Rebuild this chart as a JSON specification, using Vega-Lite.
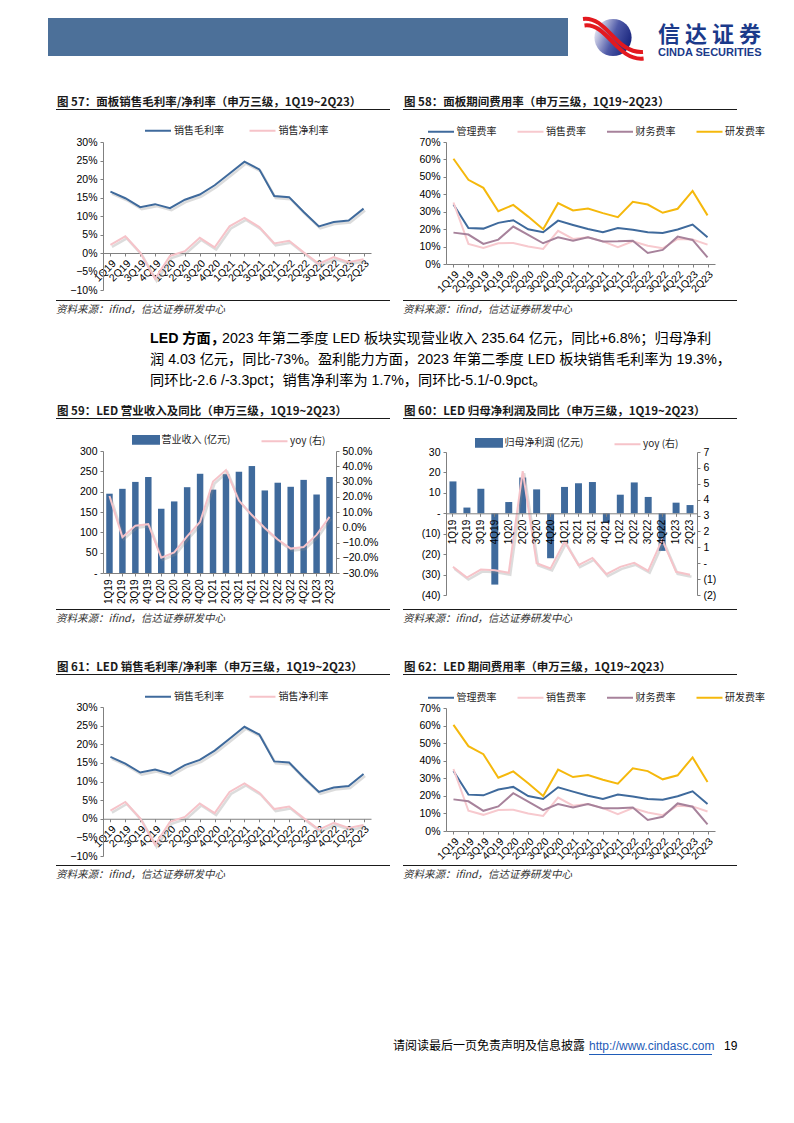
{
"$schema": "https://vega.github.io/schema/vega-lite/v6.json",
"padding": {"left": 48, "top": 0, "right": 0, "bottom": 0},
"background": "white",
"config": {
  "view": {"stroke": null},
  "font": "Liberation Sans, Noto Sans CJK SC",
  "axis": {"labelFont": "Liberation Sans", "labelFontSize": 10.5, "labelColor": "#000000", "domainColor": "#808080", "tickColor": "#808080", "tickSize": 3, "labelPadding": 3, "grid": false, "labelOverlap": false},
  "legend": {"labelFont": "Noto Sans CJK SC", "labelFontSize": 10, "labelColor": "#262626"},
  "title": {"anchor": "start", "frame": "group", "font": "Noto Sans CJK SC", "color": "#000000", "fontWeight": "normal", "offset": 0}
},
"datasets": {
  "blank": [{}],
  "margin": [
    {"q":"1Q19","s":"销售毛利率","v":0.166},{"q":"2Q19","s":"销售毛利率","v":0.148},{"q":"3Q19","s":"销售毛利率","v":0.124},{"q":"4Q19","s":"销售毛利率","v":0.132},{"q":"1Q20","s":"销售毛利率","v":0.121},{"q":"2Q20","s":"销售毛利率","v":0.144},{"q":"3Q20","s":"销售毛利率","v":0.158},{"q":"4Q20","s":"销售毛利率","v":0.183},{"q":"1Q21","s":"销售毛利率","v":0.215},{"q":"2Q21","s":"销售毛利率","v":0.247},{"q":"3Q21","s":"销售毛利率","v":0.226},{"q":"4Q21","s":"销售毛利率","v":0.154},{"q":"1Q22","s":"销售毛利率","v":0.151},{"q":"2Q22","s":"销售毛利率","v":0.110},{"q":"3Q22","s":"销售毛利率","v":0.072},{"q":"4Q22","s":"销售毛利率","v":0.084},{"q":"1Q23","s":"销售毛利率","v":0.088},{"q":"2Q23","s":"销售毛利率","v":0.120},
    {"q":"1Q19","s":"销售净利率","v":0.022},{"q":"2Q19","s":"销售净利率","v":0.045},{"q":"3Q19","s":"销售净利率","v":0.001},{"q":"4Q19","s":"销售净利率","v":-0.070},{"q":"1Q20","s":"销售净利率","v":-0.008},{"q":"2Q20","s":"销售净利率","v":0.005},{"q":"3Q20","s":"销售净利率","v":0.041},{"q":"4Q20","s":"销售净利率","v":0.015},{"q":"1Q21","s":"销售净利率","v":0.072},{"q":"2Q21","s":"销售净利率","v":0.095},{"q":"3Q21","s":"销售净利率","v":0.070},{"q":"4Q21","s":"销售净利率","v":0.026},{"q":"1Q22","s":"销售净利率","v":0.033},{"q":"2Q22","s":"销售净利率","v":0.001},{"q":"3Q22","s":"销售净利率","v":-0.029},{"q":"4Q22","s":"销售净利率","v":-0.011},{"q":"1Q23","s":"销售净利率","v":-0.025},{"q":"2Q23","s":"销售净利率","v":-0.017}
  ],
  "exp": [
    {"q":"1Q19","s":"管理费率","v":0.341},{"q":"2Q19","s":"管理费率","v":0.207},{"q":"3Q19","s":"管理费率","v":0.203},{"q":"4Q19","s":"管理费率","v":0.236},{"q":"1Q20","s":"管理费率","v":0.251},{"q":"2Q20","s":"管理费率","v":0.199},{"q":"3Q20","s":"管理费率","v":0.182},{"q":"4Q20","s":"管理费率","v":0.249},{"q":"1Q21","s":"管理费率","v":0.224},{"q":"2Q21","s":"管理费率","v":0.201},{"q":"3Q21","s":"管理费率","v":0.182},{"q":"4Q21","s":"管理费率","v":0.207},{"q":"1Q22","s":"管理费率","v":0.196},{"q":"2Q22","s":"管理费率","v":0.182},{"q":"3Q22","s":"管理费率","v":0.178},{"q":"4Q22","s":"管理费率","v":0.198},{"q":"1Q23","s":"管理费率","v":0.226},{"q":"2Q23","s":"管理费率","v":0.153},
    {"q":"1Q19","s":"销售费率","v":0.353},{"q":"2Q19","s":"销售费率","v":0.115},{"q":"3Q19","s":"销售费率","v":0.092},{"q":"4Q19","s":"销售费率","v":0.119},{"q":"1Q20","s":"销售费率","v":0.121},{"q":"2Q20","s":"销售费率","v":0.100},{"q":"3Q20","s":"销售费率","v":0.086},{"q":"4Q20","s":"销售费率","v":0.190},{"q":"1Q21","s":"销售费率","v":0.144},{"q":"2Q21","s":"销售费率","v":0.153},{"q":"3Q21","s":"销售费率","v":0.130},{"q":"4Q21","s":"销售费率","v":0.096},{"q":"1Q22","s":"销售费率","v":0.130},{"q":"2Q22","s":"销售费率","v":0.105},{"q":"3Q22","s":"销售费率","v":0.090},{"q":"4Q22","s":"销售费率","v":0.144},{"q":"1Q23","s":"销售费率","v":0.140},{"q":"2Q23","s":"销售费率","v":0.111},
    {"q":"1Q19","s":"财务费率","v":0.180},{"q":"2Q19","s":"财务费率","v":0.169},{"q":"3Q19","s":"财务费率","v":0.115},{"q":"4Q19","s":"财务费率","v":0.140},{"q":"1Q20","s":"财务费率","v":0.215},{"q":"2Q20","s":"财务费率","v":0.167},{"q":"3Q20","s":"财务费率","v":0.119},{"q":"4Q20","s":"财务费率","v":0.153},{"q":"1Q21","s":"财务费率","v":0.134},{"q":"2Q21","s":"财务费率","v":0.153},{"q":"3Q21","s":"财务费率","v":0.129},{"q":"4Q21","s":"财务费率","v":0.130},{"q":"1Q22","s":"财务费率","v":0.134},{"q":"2Q22","s":"财务费率","v":0.063},{"q":"3Q22","s":"财务费率","v":0.081},{"q":"4Q22","s":"财务费率","v":0.157},{"q":"1Q23","s":"财务费率","v":0.138},{"q":"2Q23","s":"财务费率","v":0.038},
    {"q":"1Q19","s":"研发费率","v":0.604},{"q":"2Q19","s":"研发费率","v":0.483},{"q":"3Q19","s":"研发费率","v":0.437},{"q":"4Q19","s":"研发费率","v":0.303},{"q":"1Q20","s":"研发费率","v":0.339},{"q":"2Q20","s":"研发费率","v":0.272},{"q":"3Q20","s":"研发费率","v":0.199},{"q":"4Q20","s":"研发费率","v":0.349},{"q":"1Q21","s":"研发费率","v":0.307},{"q":"2Q21","s":"研发费率","v":0.318},{"q":"3Q21","s":"研发费率","v":0.292},{"q":"4Q21","s":"研发费率","v":0.269},{"q":"1Q22","s":"研发费率","v":0.357},{"q":"2Q22","s":"研发费率","v":0.341},{"q":"3Q22","s":"研发费率","v":0.294},{"q":"4Q22","s":"研发费率","v":0.317},{"q":"1Q23","s":"研发费率","v":0.419},{"q":"2Q23","s":"研发费率","v":0.279}
  ],
  "rev": [
    {"q":"1Q19","rev":195,"yoy":0.205},{"q":"2Q19","rev":207,"yoy":-0.065},{"q":"3Q19","rev":224,"yoy":0.01},{"q":"4Q19","rev":236,"yoy":0.02},{"q":"1Q20","rev":158,"yoy":-0.2},{"q":"2Q20","rev":176,"yoy":-0.165},{"q":"3Q20","rev":211,"yoy":-0.06},{"q":"4Q20","rev":244,"yoy":0.035},{"q":"1Q21","rev":205,"yoy":0.3},{"q":"2Q21","rev":243,"yoy":0.375},{"q":"3Q21","rev":249,"yoy":0.175},{"q":"4Q21","rev":263,"yoy":0.08},{"q":"1Q22","rev":203,"yoy":-0.005},{"q":"2Q22","rev":222,"yoy":-0.08},{"q":"3Q22","rev":212,"yoy":-0.14},{"q":"4Q22","rev":229,"yoy":-0.13},{"q":"1Q23","rev":193,"yoy":-0.05},{"q":"2Q23","rev":236,"yoy":0.068}
  ],
  "np": [
    {"q":"1Q19","np":15.6,"yoy":-0.23},{"q":"2Q19","np":2.8,"yoy":-0.9},{"q":"3Q19","np":12.0,"yoy":-0.4},{"q":"4Q19","np":-34.9,"yoy":-0.44},{"q":"1Q20","np":5.5,"yoy":-0.6},{"q":"2Q20","np":17.5,"yoy":5.8},{"q":"3Q20","np":11.7,"yoy":0.0},{"q":"4Q20","np":-22.0,"yoy":-0.33},{"q":"1Q21","np":12.9,"yoy":1.37},{"q":"2Q21","np":14.7,"yoy":-0.12},{"q":"3Q21","np":15.3,"yoy":0.33},{"q":"4Q21","np":-4.5,"yoy":-0.69},{"q":"1Q22","np":9.1,"yoy":-0.23},{"q":"2Q22","np":15.1,"yoy":0.02},{"q":"3Q22","np":8.0,"yoy":-0.48},{"q":"4Q22","np":-18.4,"yoy":1.48},{"q":"1Q23","np":5.2,"yoy":-0.54},{"q":"2Q23","np":4.03,"yoy":-0.73}
  ]
},
"spacing": 0,
"bounds": "flush",
"resolve": {"scale": {"color": "independent"}, "legend": {"color": "independent"}},
"hconcat": [
  {"spacing": 0, "bounds": "flush", "vconcat": [
    {"width":1,"height":18,"data":{"name":"blank"},"mark":{"type":"text","fontSize":0},"encoding":{"text":{"value":""}}},
    {"width":520,"height":38,"view":{"fill":"#4C7099","stroke":null},"data":{"name":"blank"},"mark":{"type":"text","fontSize":0},"encoding":{"text":{"value":""}}}
  ]},
  {"width":8,"height":1,"data":{"name":"blank"},"mark":{"type":"text","fontSize":0},"encoding":{"text":{"value":""}}},
  {"spacing": 0, "bounds": "flush", "vconcat": [
    {"width":1,"height":109,"data":{"name":"blank"},"mark":{"type":"text","fontSize":0},"encoding":{"text":{"value":""}}},
    {"width":334,"height":1,"view":{"fill":"#1a1a1a","stroke":null},"data":{"name":"blank"},"mark":{"type":"text","fontSize":0},"encoding":{"text":{"value":""}},"title":{"text":"图 57：面板销售毛利率/净利率（申万三级，1Q19~2Q23）","orient":"top","offset":1,"dx":1,"fontSize":11.5,"fontWeight":"bold","color":"#1a1a1a"}},
    {"width":1,"height":190,"data":{"name":"blank"},"mark":{"type":"text","fontSize":0},"encoding":{"text":{"value":""}}},
    {"width":334,"height":1,"view":{"fill":"#1a1a1a","stroke":null},"data":{"name":"blank"},"mark":{"type":"text","fontSize":0},"encoding":{"text":{"value":""}},"title":{"text":"资料来源：ifind，信达证券研发中心","orient":"bottom","offset":4,"fontSize":10.5,"fontStyle":"italic","color":"#333333"}},
    {"width":1,"height":28,"data":{"name":"blank"},"mark":{"type":"text","fontSize":0},"encoding":{"text":{"value":""}}},
    {"width":1,"height":1,"data":{"name":"blank"},"mark":{"type":"text","fontSize":0},"encoding":{"text":{"value":""}},"title":{"text":"LED 方面，","orient":"bottom","offset":2,"dx":94,"fontSize":14.2,"fontWeight":"bold","font":"Liberation Sans, Noto Sans CJK SC"}},
    {"width":1,"height":1,"data":{"name":"blank"},"mark":{"type":"text","fontSize":0},"encoding":{"text":{"value":""}},"title":{"text":"2023 年第二季度 LED 板块实现营业收入 235.64 亿元，同比+6.8%；归母净利","orient":"bottom","offset":1,"dx":166,"fontSize":14.2,"font":"Liberation Sans, Noto Sans CJK SC"}},
    {"width":1,"height":1,"data":{"name":"blank"},"mark":{"type":"text","fontSize":0},"encoding":{"text":{"value":""}},"title":{"text":["润 4.03 亿元，同比-73%。盈利能力方面，2023 年第二季度 LED 板块销售毛利率为 19.3%，","同环比-2.6 /-3.3pct；销售净利率为 1.7%，同环比-5.1/-0.9pct。"],"orient":"bottom","offset":21,"dx":94,"fontSize":14.2,"lineHeight":21,"font":"Liberation Sans, Noto Sans CJK SC"}},
    {"width":1,"height":86,"data":{"name":"blank"},"mark":{"type":"text","fontSize":0},"encoding":{"text":{"value":""}}},
    {"width":334,"height":1,"view":{"fill":"#1a1a1a","stroke":null},"data":{"name":"blank"},"mark":{"type":"text","fontSize":0},"encoding":{"text":{"value":""}},"title":{"text":"图 59：LED 营业收入及同比（申万三级，1Q19~2Q23）","orient":"top","offset":1,"dx":1,"fontSize":11.5,"fontWeight":"bold","color":"#1a1a1a"}},
    {"width":1,"height":190,"data":{"name":"blank"},"mark":{"type":"text","fontSize":0},"encoding":{"text":{"value":""}}},
    {"width":334,"height":1,"view":{"fill":"#1a1a1a","stroke":null},"data":{"name":"blank"},"mark":{"type":"text","fontSize":0},"encoding":{"text":{"value":""}},"title":{"text":"资料来源：ifind，信达证券研发中心","orient":"bottom","offset":4,"fontSize":10.5,"fontStyle":"italic","color":"#333333"}},
    {"width":1,"height":64,"data":{"name":"blank"},"mark":{"type":"text","fontSize":0},"encoding":{"text":{"value":""}}},
    {"width":334,"height":1,"view":{"fill":"#1a1a1a","stroke":null},"data":{"name":"blank"},"mark":{"type":"text","fontSize":0},"encoding":{"text":{"value":""}},"title":{"text":"图 61：LED 销售毛利率/净利率（申万三级，1Q19~2Q23）","orient":"top","offset":1,"dx":1,"fontSize":11.5,"fontWeight":"bold","color":"#1a1a1a"}},
    {"width":1,"height":190,"data":{"name":"blank"},"mark":{"type":"text","fontSize":0},"encoding":{"text":{"value":""}}},
    {"width":334,"height":1,"view":{"fill":"#1a1a1a","stroke":null},"data":{"name":"blank"},"mark":{"type":"text","fontSize":0},"encoding":{"text":{"value":""}},"title":{"text":"资料来源：ifind，信达证券研发中心","orient":"bottom","offset":4,"fontSize":10.5,"fontStyle":"italic","color":"#333333"}}
  ]},
  {"width":47,"height":1,"data":{"name":"blank"},"mark":{"type":"text","fontSize":0},"encoding":{"text":{"value":""}}},
  {"spacing": 0, "bounds": "flush", "resolve": {"scale": {"color": "independent"}, "legend": {"color": "independent"}}, "vconcat": [
    {"width":1,"height":142,"data":{"name":"blank"},"mark":{"type":"text","fontSize":0},"encoding":{"text":{"value":""}}},
    {"width":268,"height":148,"data":{"name":"margin"},
     "encoding":{
      "x":{"field":"q","type":"nominal","sort":null,"scale":{"type":"point","padding":0.5},"axis":{"title":null,"labelAngle":-45,"offset":-37,"labelPadding":2}},
      "y":{"field":"v","type":"quantitative","scale":{"domain":[-0.1,0.3],"nice":false,"zero":false},"axis":{"title":null,"values":[-0.1,-0.05,0,0.05,0.1,0.15,0.2,0.25,0.3],"format":".0%"}}},
     "layer":[
      {"mark":{"type":"line","strokeWidth":2.5,"color":"#8c8c8c","opacity":0.3,"xOffset":1.5,"yOffset":2},
       "encoding":{"detail":{"field":"s","type":"nominal"}}},
      {"mark":{"type":"line","strokeWidth":2},
       "encoding":{
        "color":{"field":"s","type":"nominal","scale":{"domain":["销售毛利率","销售净利率"],"range":["#3F6A9C","#F6C3C9"]},"legend":{"title":null,"orient":"none","legendX":47.5,"legendY":-19,"direction":"horizontal","symbolType":"M-2,0H2","symbolSize":169,"symbolStrokeWidth":2,"labelOffset":8.5,"columnPadding":20.5,"labelFontSize":10}}}}
     ]},
    {"width":1,"height":161,"data":{"name":"blank"},"mark":{"type":"text","fontSize":0},"encoding":{"text":{"value":""}}},
    {"width":233,"height":122,"data":{"name":"rev"},
     "layer":[
      {"mark":{"type":"bar"},"encoding":{
        "x":{"field":"q","type":"nominal","sort":null,"scale":{"type":"band","paddingInner":0.5,"paddingOuter":0.25},"axis":{"title":null,"labelAngle":-90,"labelFontSize":10,"labelPadding":3}},
        "y":{"field":"rev","type":"quantitative","scale":{"domain":[0,300],"nice":false},"axis":{"title":null,"values":[0,50,100,150,200,250,300],"labelExpr":"datum.value === 0 ? '-' : datum.label"}},
        "color":{"datum":"营业收入 (亿元)","type":"nominal","scale":{"domain":["营业收入 (亿元)","yoy (右)"],"range":["#3F6A9C","#F6C3C9"]},"legend":{"title":null,"orient":"none","legendX":35.5,"legendY":-19,"direction":"horizontal","symbolSize":169,"labelOffset":8,"columnPadding":26.5,"labelFontSize":10,
          "encode":{"symbols":{"update":{"shape":{"signal":"datum.value === 'yoy (右)' ? 'M-2,0H2' : 'M-2,-0.6H2V0.6H-2Z'"},"fill":{"signal":"datum.value === 'yoy (右)' ? 'transparent' : '#3F6A9C'"},"stroke":{"signal":"datum.value === 'yoy (右)' ? '#F6C3C9' : 'transparent'"},"strokeWidth":{"value":2},"opacity":{"value":1}}}}}}
      }},
      {"mark":{"type":"line","strokeWidth":2.5,"color":"#8c8c8c","opacity":0.3,"xOffset":1.5,"yOffset":2},"encoding":{
        "x":{"field":"q","type":"nominal","sort":null,"bandPosition":0.5},
        "y":{"field":"yoy","type":"quantitative","scale":{"domain":[-0.3,0.5],"nice":false,"zero":false},"axis":null}
      }},
      {"mark":{"type":"line","strokeWidth":2},"encoding":{
        "x":{"field":"q","type":"nominal","sort":null,"bandPosition":0.5},
        "y":{"field":"yoy","type":"quantitative","scale":{"domain":[-0.3,0.5],"nice":false,"zero":false},"axis":{"title":null,"orient":"right","values":[-0.3,-0.2,-0.1,0,0.1,0.2,0.3,0.4,0.5],"format":".1%"}},
        "color":{"datum":"yoy (右)","type":"nominal"}
      }}
     ],
     "resolve":{"scale":{"y":"independent"}}},
    {"width":1,"height":134,"data":{"name":"blank"},"mark":{"type":"text","fontSize":0},"encoding":{"text":{"value":""}}},
    {"width":268,"height":149,"data":{"name":"margin"},
     "encoding":{
      "x":{"field":"q","type":"nominal","sort":null,"scale":{"type":"point","padding":0.5},"axis":{"title":null,"labelAngle":-45,"offset":-37.25,"labelPadding":2}},
      "y":{"field":"v","type":"quantitative","scale":{"domain":[-0.1,0.3],"nice":false,"zero":false},"axis":{"title":null,"values":[-0.1,-0.05,0,0.05,0.1,0.15,0.2,0.25,0.3],"format":".0%"}}},
     "layer":[
      {"mark":{"type":"line","strokeWidth":2.5,"color":"#8c8c8c","opacity":0.3,"xOffset":1.5,"yOffset":2},
       "encoding":{"detail":{"field":"s","type":"nominal"}}},
      {"mark":{"type":"line","strokeWidth":2},
       "encoding":{
        "color":{"field":"s","type":"nominal","scale":{"domain":["销售毛利率","销售净利率"],"range":["#3F6A9C","#F6C3C9"]},"legend":{"title":null,"orient":"none","legendX":47.5,"legendY":-18,"direction":"horizontal","symbolType":"M-2,0H2","symbolSize":169,"symbolStrokeWidth":2,"labelOffset":8.5,"columnPadding":20.5,"labelFontSize":10}}}}
     ]}
  ]},
  {"width":300,"height":1,"data":{"name":"blank"},"mark":{"type":"text","fontSize":0},"encoding":{"text":{"value":""}}},
  {"spacing": 0, "bounds": "flush", "vconcat": [
    {"width":1,"height":109,"data":{"name":"blank"},"mark":{"type":"text","fontSize":0},"encoding":{"text":{"value":""}}},
    {"width":334,"height":1,"view":{"fill":"#1a1a1a","stroke":null},"data":{"name":"blank"},"mark":{"type":"text","fontSize":0},"encoding":{"text":{"value":""}},"title":{"text":"图 58：面板期间费用率（申万三级，1Q19~2Q23）","orient":"top","offset":1,"dx":1,"fontSize":11.5,"fontWeight":"bold","color":"#1a1a1a"}},
    {"width":1,"height":190,"data":{"name":"blank"},"mark":{"type":"text","fontSize":0},"encoding":{"text":{"value":""}}},
    {"width":334,"height":1,"view":{"fill":"#1a1a1a","stroke":null},"data":{"name":"blank"},"mark":{"type":"text","fontSize":0},"encoding":{"text":{"value":""}},"title":{"text":"资料来源：ifind，信达证券研发中心","orient":"bottom","offset":4,"fontSize":10.5,"fontStyle":"italic","color":"#333333"}},
    {"width":1,"height":117,"data":{"name":"blank"},"mark":{"type":"text","fontSize":0},"encoding":{"text":{"value":""}}},
    {"width":334,"height":1,"view":{"fill":"#1a1a1a","stroke":null},"data":{"name":"blank"},"mark":{"type":"text","fontSize":0},"encoding":{"text":{"value":""}},"title":{"text":"图 60：LED 归母净利润及同比（申万三级，1Q19~2Q23）","orient":"top","offset":1,"dx":1,"fontSize":11.5,"fontWeight":"bold","color":"#1a1a1a"}},
    {"width":1,"height":190,"data":{"name":"blank"},"mark":{"type":"text","fontSize":0},"encoding":{"text":{"value":""}}},
    {"width":334,"height":1,"view":{"fill":"#1a1a1a","stroke":null},"data":{"name":"blank"},"mark":{"type":"text","fontSize":0},"encoding":{"text":{"value":""}},"title":{"text":"资料来源：ifind，信达证券研发中心","orient":"bottom","offset":4,"fontSize":10.5,"fontStyle":"italic","color":"#333333"}},
    {"width":1,"height":64,"data":{"name":"blank"},"mark":{"type":"text","fontSize":0},"encoding":{"text":{"value":""}}},
    {"width":334,"height":1,"view":{"fill":"#1a1a1a","stroke":null},"data":{"name":"blank"},"mark":{"type":"text","fontSize":0},"encoding":{"text":{"value":""}},"title":{"text":"图 62：LED 期间费用率（申万三级，1Q19~2Q23）","orient":"top","offset":1,"dx":1,"fontSize":11.5,"fontWeight":"bold","color":"#1a1a1a"}},
    {"width":1,"height":190,"data":{"name":"blank"},"mark":{"type":"text","fontSize":0},"encoding":{"text":{"value":""}}},
    {"width":334,"height":1,"view":{"fill":"#1a1a1a","stroke":null},"data":{"name":"blank"},"mark":{"type":"text","fontSize":0},"encoding":{"text":{"value":""}},"title":{"text":"资料来源：ifind，信达证券研发中心","orient":"bottom","offset":4,"fontSize":10.5,"fontStyle":"italic","color":"#333333"}},
    {"width":1,"height":174,"data":{"name":"blank"},"mark":{"type":"text","fontSize":0},"encoding":{"text":{"value":""}}},
    {"width":1,"height":1,"data":{"name":"blank"},"mark":{"type":"text","fontSize":0},"encoding":{"text":{"value":""}},"title":{"text":"请阅读最后一页免责声明及信息披露","orient":"bottom","offset":0,"dx":-10,"fontSize":12,"color":"#000000"}},
    {"width":1,"height":1,"data":{"name":"blank"},"mark":{"type":"text","fontSize":0},"encoding":{"text":{"value":""}},"title":{"text":"http://www.cindasc.com","orient":"bottom","offset":-1,"dx":186,"fontSize":12,"font":"Liberation Sans","color":"#1F5CB8"}},
    {"width":1,"height":1,"data":{"name":"blank"},"mark":{"type":"text","fontSize":0},"encoding":{"text":{"value":""}},"title":{"text":"19","orient":"bottom","offset":-2,"dx":321,"fontSize":12,"font":"Liberation Sans","color":"#000000"}}
  ]},
  {"width":43,"height":1,"data":{"name":"blank"},"mark":{"type":"text","fontSize":0},"encoding":{"text":{"value":""}}},
  {"spacing": 0, "bounds": "flush", "resolve": {"scale": {"color": "independent"}, "legend": {"color": "independent"}}, "vconcat": [
    {"width":1,"height":142,"data":{"name":"blank"},"mark":{"type":"text","fontSize":0},"encoding":{"text":{"value":""}}},
    {"width":269,"height":122,"data":{"name":"exp"},"mark":{"type":"line","strokeWidth":2},
     "encoding":{
      "x":{"field":"q","type":"nominal","sort":null,"scale":{"type":"point","padding":0.5},"axis":{"title":null,"labelAngle":-45,"labelPadding":2}},
      "y":{"field":"v","type":"quantitative","scale":{"domain":[0,0.7],"nice":false},"axis":{"title":null,"values":[0,0.1,0.2,0.3,0.4,0.5,0.6,0.7],"format":".0%"}},
      "color":{"field":"s","type":"nominal","scale":{"domain":["管理费率","销售费率","财务费率","研发费率"],"range":["#3F6A9C","#F7C9CE","#A7829B","#F5B80C"]},"legend":{"title":null,"orient":"none","legendX":-12.5,"legendY":-18,"direction":"horizontal","symbolType":"M-2,0H2","symbolSize":169,"symbolStrokeWidth":2,"labelOffset":8,"columnPadding":16.5,"labelFontSize":10}}
     }},
    {"width":1,"height":188,"data":{"name":"blank"},"mark":{"type":"text","fontSize":0},"encoding":{"text":{"value":""}}},
    {"width":251,"height":143,"data":{"name":"np"},
     "layer":[
      {"mark":{"type":"bar"},"encoding":{
        "x":{"field":"q","type":"nominal","sort":null,"scale":{"type":"band","paddingInner":0.5,"paddingOuter":0.25},"axis":{"title":null,"labelAngle":-90,"labelFontSize":10,"labelPadding":3,"offset":-81.7,"zindex":1}},
        "y":{"field":"np","type":"quantitative","scale":{"domain":[-40,30],"nice":false},"axis":{"title":null,"values":[-40,-30,-20,-10,0,10,20,30],"labelExpr":"datum.value < 0 ? '(' + (-datum.value) + ')' : (datum.value === 0 ? '-' : datum.label)"}},
        "color":{"datum":"归母净利润 (亿元)","type":"nominal","scale":{"domain":["归母净利润 (亿元)","yoy (右)"],"range":["#3F6A9C","#F6C3C9"]},"legend":{"title":null,"orient":"none","legendX":35.5,"legendY":-17,"direction":"horizontal","symbolSize":169,"labelOffset":8,"columnPadding":26.5,"labelFontSize":10,
          "encode":{"symbols":{"update":{"shape":{"signal":"datum.value === 'yoy (右)' ? 'M-2,0H2' : 'M-2,-0.6H2V0.6H-2Z'"},"fill":{"signal":"datum.value === 'yoy (右)' ? 'transparent' : '#3F6A9C'"},"stroke":{"signal":"datum.value === 'yoy (右)' ? '#F6C3C9' : 'transparent'"},"strokeWidth":{"value":2},"opacity":{"value":1}}}}}}
      }},
      {"mark":{"type":"line","strokeWidth":2.5,"color":"#8c8c8c","opacity":0.3,"xOffset":1.5,"yOffset":2},"encoding":{
        "x":{"field":"q","type":"nominal","sort":null,"bandPosition":0.5},
        "y":{"field":"yoy","type":"quantitative","scale":{"domain":[-2,7],"nice":false,"zero":false},"axis":null}
      }},
      {"mark":{"type":"line","strokeWidth":2},"encoding":{
        "x":{"field":"q","type":"nominal","sort":null,"bandPosition":0.5},
        "y":{"field":"yoy","type":"quantitative","scale":{"domain":[-2,7],"nice":false,"zero":false},"axis":{"title":null,"orient":"right","values":[-2,-1,0,1,2,3,4,5,6,7],"labelExpr":"datum.value < 0 ? '(' + (-datum.value) + ')' : (datum.value === 0 ? '-' : datum.label)"}},
        "color":{"datum":"yoy (右)","type":"nominal"}
      }}
     ],
     "resolve":{"scale":{"y":"independent"}}},
    {"width":1,"height":113,"data":{"name":"blank"},"mark":{"type":"text","fontSize":0},"encoding":{"text":{"value":""}}},
    {"width":269,"height":123,"data":{"name":"exp"},"mark":{"type":"line","strokeWidth":2},
     "encoding":{
      "x":{"field":"q","type":"nominal","sort":null,"scale":{"type":"point","padding":0.5},"axis":{"title":null,"labelAngle":-45,"labelPadding":2}},
      "y":{"field":"v","type":"quantitative","scale":{"domain":[0,0.7],"nice":false},"axis":{"title":null,"values":[0,0.1,0.2,0.3,0.4,0.5,0.6,0.7],"format":".0%"}},
      "color":{"field":"s","type":"nominal","scale":{"domain":["管理费率","销售费率","财务费率","研发费率"],"range":["#3F6A9C","#F7C9CE","#A7829B","#F5B80C"]},"legend":{"title":null,"orient":"none","legendX":-12.5,"legendY":-18,"direction":"horizontal","symbolType":"M-2,0H2","symbolSize":169,"symbolStrokeWidth":2,"labelOffset":8,"columnPadding":16.5,"labelFontSize":10}}
     }}
  ]},
  {"width":137,"height":1,"data":{"name":"blank"},"mark":{"type":"text","fontSize":0},"encoding":{"text":{"value":""}}},
  {"spacing": 0, "bounds": "flush", "vconcat": [
    {"width":1,"height":17,"data":{"name":"blank"},"mark":{"type":"text","fontSize":0},"encoding":{"text":{"value":""}}},
    {"width":60,"height":41,"data":{"name":"blank"},"layer":[
      {"mark":{"type":"point","shape":"circle","filled":true,"size":1385,"opacity":1,"fill":{"gradient":"linear","x1":0,"y1":0.3,"x2":1,"y2":0.7,"stops":[{"offset":0,"color":"#E9E9F4"},{"offset":0.5,"color":"#4F5AA8"},{"offset":1,"color":"#14217A"}]}},"encoding":{}},
      {"mark":{"type":"point","shape":"M-1,-0.62C-0.2,-0.72 0.1,0.55 1,0.48","size":3600,"filled":false,"opacity":1,"stroke":"#E3191F","strokeWidth":4},"encoding":{}},
      {"mark":{"type":"point","shape":"M-0.95,-0.4C-0.2,-0.5 0.15,0.8 1.02,0.7","size":3600,"filled":false,"opacity":1,"stroke":"#E3191F","strokeWidth":4},"encoding":{}}
    ]}
  ]},
  {"width":6,"height":1,"data":{"name":"blank"},"mark":{"type":"text","fontSize":0},"encoding":{"text":{"value":""}}},
  {"spacing": 0, "bounds": "flush", "vconcat": [
    {"width":1,"height":1054,"data":{"name":"blank"},"mark":{"type":"text","fontSize":0},"encoding":{"text":{"value":""}}},
    {"width":123,"height":1,"view":{"fill":"#1F5CB8","stroke":null},"data":{"name":"blank"},"mark":{"type":"text","fontSize":0},"encoding":{"text":{"value":""}}}
  ]},
  {"width":69,"height":1,"data":{"name":"blank"},"mark":{"type":"text","fontSize":0},"encoding":{"text":{"value":""}}},
  {"spacing": 0, "bounds": "flush", "vconcat": [
    {"width":1,"height":24,"data":{"name":"blank"},"mark":{"type":"text","fontSize":0},"encoding":{"text":{"value":""}}},
    {"width":1,"height":1,"data":{"name":"blank"},"mark":{"type":"text","fontSize":0},"encoding":{"text":{"value":""}},"title":{"text":"信 达 证 券","subtitle":"CINDA SECURITIES","orient":"bottom","offset":0,"fontSize":22,"fontWeight":"bold","color":"#1B3A8A","subtitleFont":"Liberation Sans","subtitleFontSize":11,"subtitleFontWeight":"bold","subtitleColor":"#1B3A8A","subtitlePadding":0}}
  ]}
]
}
